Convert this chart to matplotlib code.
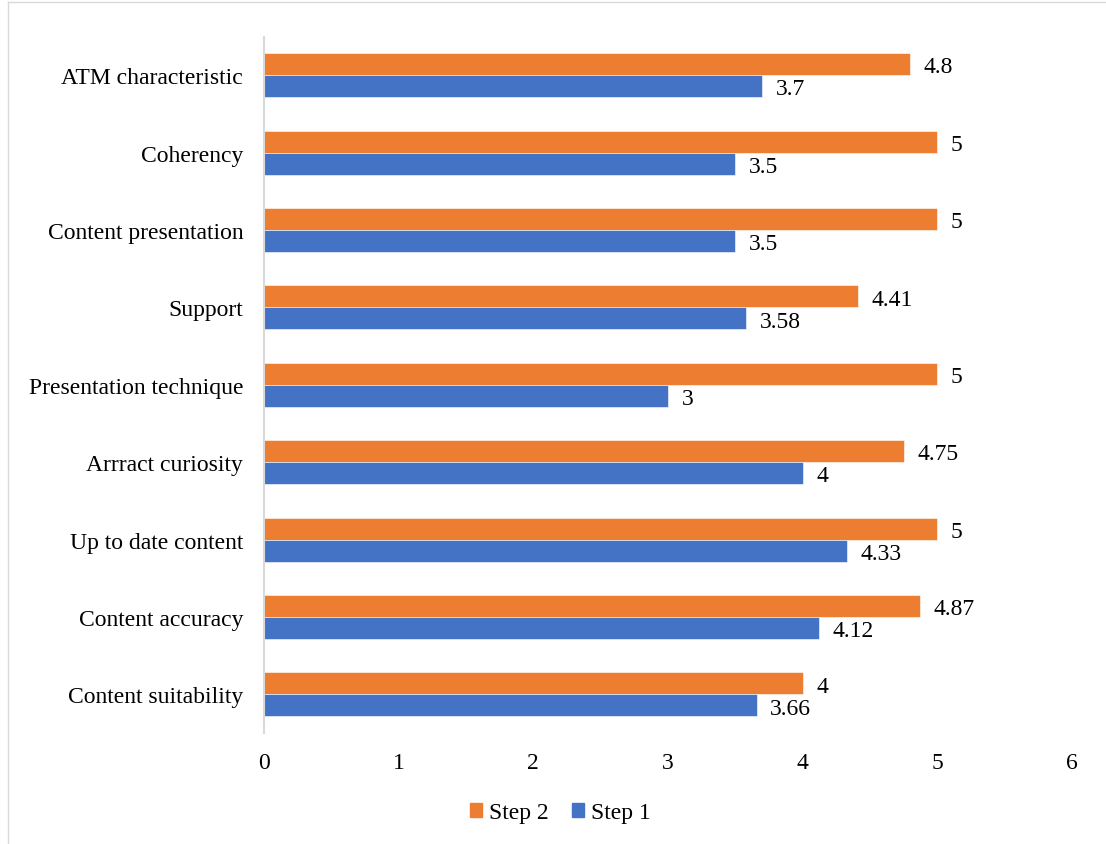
import numpy as np
import matplotlib.pyplot as plt
from matplotlib.patches import Patch
from matplotlib.lines import Line2D

# data, bottom to top as drawn
categories = ["Content suitability", "Content accuracy", "Up to date content",
              "Arrract curiosity", "Presentation technique", "Support",
              "Content presentation", "Coherency", "ATM characteristic"]
step1 = [3.66, 4.12, 4.33, 4, 3, 3.58, 3.5, 3.5, 3.7]
step2 = [4, 4.87, 5, 4.75, 5, 4.41, 5, 5, 4.8]
xticks = [0, 1, 2, 3, 4, 5, 6]

orange = "#ED7D31"
blue = "#4472C4"

plt.rcParams['font.family'] = ['Liberation Serif', 'DejaVu Serif']

fig = plt.figure(figsize=(11.06, 8.45), dpi=100)
ax = fig.add_axes([264 / 1106, 1 - 734 / 845, (1072 - 264) / 1106, (734 - 37.5) / 845])

y = np.arange(len(categories))
h = 0.284
ax.barh(y + h / 2, step2, height=h, color=orange, edgecolor="white", linewidth=0.4)
ax.barh(y - h / 2, step1, height=h, color=blue, edgecolor="white", linewidth=0.4)

# value labels
for yi, v in zip(y, step2):
    ax.text(v + 0.1, yi + h / 2 - 0.035, f"{v:g}", va="center", ha="left", fontsize=17)
for yi, v in zip(y, step1):
    ax.text(v + 0.1, yi - h / 2 - 0.035, f"{v:g}", va="center", ha="left", fontsize=17)

ax.set_xlim(0, 6)
ax.set_ylim(-0.5, len(categories) - 0.5)
ax.set_xticks(xticks)
ax.set_yticks(y)
ax.set_yticklabels(categories)
ax.tick_params(axis="both", length=0, labelsize=17)
ax.tick_params(axis="x", pad=14)
ax.tick_params(axis="y", pad=15)
for s in ["top", "right", "bottom"]:
    ax.spines[s].set_visible(False)
ax.spines["left"].set_color("#D9D9D9")
ax.spines["left"].set_linewidth(1.5)

handles = [Patch(color=orange, label="Step 2"), Patch(color=blue, label="Step 1")]
fig.legend(handles=handles, loc="center", bbox_to_anchor=(0.507, 1 - 814 / 845), ncol=2,
           frameon=False, fontsize=17, handlelength=0.5, handleheight=0.5,
           handletextpad=0.3, columnspacing=1.0)

# outer frame, only top and left edges show
x0, y0 = 8 / 1106, 1 - 3 / 845
fig.add_artist(Line2D([x0, 1], [y0, y0], transform=fig.transFigure, color="#D9D9D9", lw=1))
fig.add_artist(Line2D([x0, x0], [0, y0], transform=fig.transFigure, color="#D9D9D9", lw=1))

fig.savefig("out.png", dpi=100)
